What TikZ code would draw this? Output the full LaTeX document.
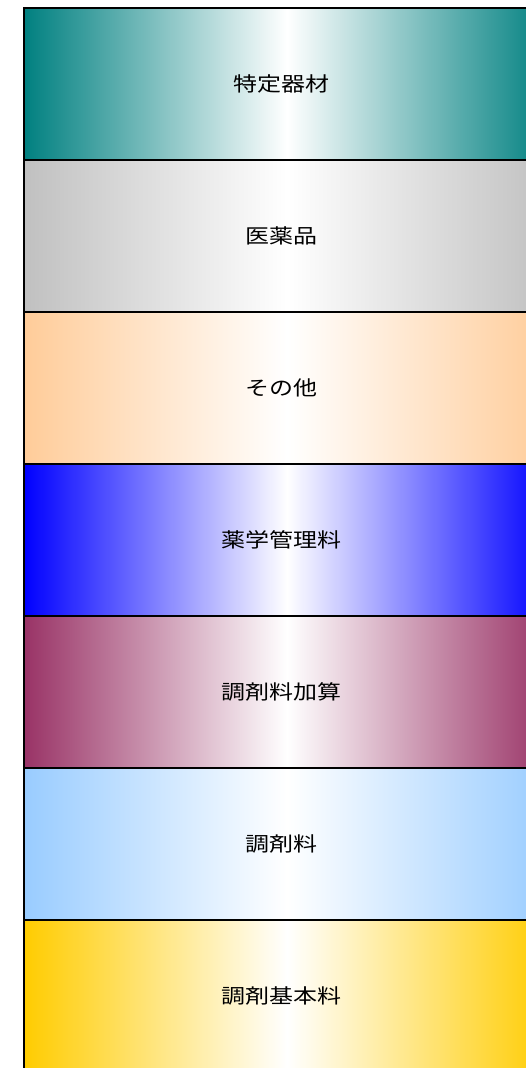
\documentclass[tikz,border=0pt]{standalone}
\usepackage{fontspec}
\newfontfamily\jp{Noto Sans CJK JP}
\definecolor{cTeal}{HTML}{008080}
\definecolor{cGray}{HTML}{C0C0C0}
\definecolor{cPeach}{HTML}{FFCC99}
\definecolor{cBlue}{HTML}{0000FF}
\definecolor{cMaroon}{HTML}{993366}
\definecolor{cSky}{HTML}{99CCFF}
\definecolor{cGold}{HTML}{FFCC00}
\tikzset{
  band/.style={draw=black, line width=1.5pt, left color=#1, right color=#1, middle color=white},
  lbl/.style={font=\jp\fontsize{20}{24}\selectfont, text=black}
}
\begin{document}
\begin{tikzpicture}[x=1pt,y=-1pt]
\useasboundingbox (0,0) rectangle (526,1068);
\begin{scope}
\clip (0,0) rectangle (526,1068);
\foreach \i/\c/\t in {0/cTeal/特定器材,1/cGray/医薬品,2/cPeach/その他,3/cBlue/薬学管理料,4/cMaroon/調剤料加算,5/cSky/調剤料,6/cGold/調剤基本料}{
  \path[band=\c] (24,{8+152*\i}) rectangle (550,{160+152*\i});
  \node[lbl] (t\i) at (281,{84+152*\i}) {\scalebox{1.2}[1]{\t}};
}
\end{scope}
\end{tikzpicture}
\end{document}
